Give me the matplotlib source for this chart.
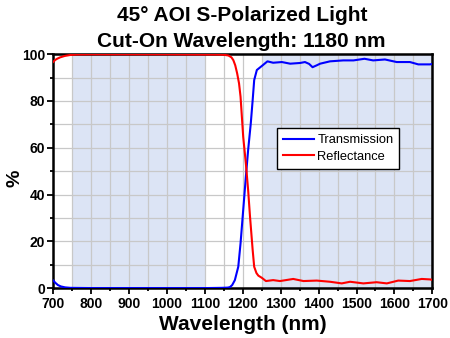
import matplotlib
matplotlib.use('Agg')
import matplotlib.pyplot as plt
import matplotlib.ticker as ticker

# Transmission (blue)
wl_t = [700, 705, 712, 720, 731, 745, 800, 900, 1000, 1100, 1144, 1160, 1166,
        1172, 1179, 1188, 1194, 1201, 1208, 1214, 1221, 1226, 1230, 1237, 1250,
        1265, 1280, 1303, 1325, 1351, 1364, 1375, 1384, 1395, 1404, 1430, 1465,
        1492, 1521, 1544, 1575, 1606, 1641, 1663, 1694, 1700]
trans = [3.3, 2.4, 1.4, 0.8, 0.4, 0.2, 0.1, 0.1, 0.1, 0.1, 0.2, 0.3, 0.5,
         1.4, 3.5, 9.2, 19.2, 33.4, 47.6, 59.0, 70.4, 80.4, 88.9, 93.2, 94.9,
         96.9, 96.3, 96.6, 95.9, 96.2, 96.6, 95.8, 94.4, 95.2, 95.9, 96.9, 97.3,
         97.3, 98.0, 97.3, 97.7, 96.6, 96.6, 95.6, 95.6, 95.8]

# Reflectance (red)
wl_r = [700, 705, 710, 718, 730, 744, 760, 800, 900, 1000, 1100, 1130, 1150,
        1162, 1170, 1175, 1180, 1185, 1190, 1194, 1201, 1208, 1214, 1219, 1226,
        1230, 1236, 1241, 1250, 1261, 1280, 1298, 1333, 1360, 1395, 1430, 1461,
        1483, 1518, 1553, 1580, 1610, 1641, 1672, 1694, 1700]
refl = [96.7, 97.5, 98.0, 98.6, 99.2, 99.6, 99.8, 99.9, 99.9, 99.9, 99.8, 99.8,
        99.7, 99.4, 98.6, 97.4, 95.2, 91.8, 87.5, 81.8, 64.7, 53.3, 42.0, 30.6,
        16.3, 9.2, 6.5, 5.4, 4.5, 3.1, 3.5, 3.1, 4.0, 3.1, 3.3, 2.8, 2.1,
        2.8, 2.1, 2.6, 2.1, 3.3, 3.1, 4.0, 3.8, 3.6]

bands = [(750, 1100), (1250, 1700)]

fam = ['Liberation Sans', 'DejaVu Sans']

fig = plt.figure(figsize=(4.5, 3.38), dpi=100)
ax = fig.add_axes([0.1185, 0.147, 0.8422, 0.693])

for lo, hi in bands:
    ax.axvspan(lo, hi, color='#dce4f5', zorder=0, lw=0)

ax.plot(wl_t, trans, color='#0000ff', lw=1.5, label='Transmission', zorder=3)
ax.plot(wl_r, refl, color='#ff0000', lw=1.5, label='Reflectance', zorder=3)

ax.set_xlim(700, 1700)
ax.set_ylim(0, 100)
ax.xaxis.set_major_locator(ticker.MultipleLocator(100))
ax.xaxis.set_minor_locator(ticker.MultipleLocator(50))
ax.yaxis.set_major_locator(ticker.MultipleLocator(20))
ax.yaxis.set_minor_locator(ticker.MultipleLocator(10))
ax.grid(which='both', color='#c8c8c8', lw=0.9, zorder=1)
ax.set_axisbelow(True)

for s in ax.spines.values():
    s.set_linewidth(1.8)
ax.tick_params(which='major', direction='out', length=4, width=1.3, pad=2)
ax.tick_params(which='minor', direction='out', length=2.5, width=1.3)

for lab in ax.get_xticklabels() + ax.get_yticklabels():
    lab.set_fontfamily(fam)
    lab.set_fontweight('bold')
    lab.set_fontsize(10)

ax.set_xlabel('Wavelength (nm)', fontsize=15, fontweight='bold', family=fam, labelpad=3)
ax.set_ylabel('%', fontsize=14, fontweight='bold', family=fam)
ax.yaxis.set_label_coords(-0.078, 0.47)

fig.text(0.538, 0.939, '45° AOI S-Polarized Light', ha='center', va='baseline',
         fontsize=15, fontweight='bold', family=fam)
fig.text(0.537, 0.862, 'Cut-On Wavelength: 1180 nm', ha='center', va='baseline',
         fontsize=15, fontweight='bold', family=fam)

leg = ax.legend(loc='upper left', bbox_to_anchor=(0.591, 0.683), frameon=True,
                fancybox=False, edgecolor='black', framealpha=1,
                prop={'family': fam, 'size': 9.3}, handlelength=2.4,
                borderpad=0.45, labelspacing=0.35, handletextpad=0.25,
                borderaxespad=0)
leg.get_frame().set_linewidth(1.0)

fig.savefig('out.png', dpi=100)
